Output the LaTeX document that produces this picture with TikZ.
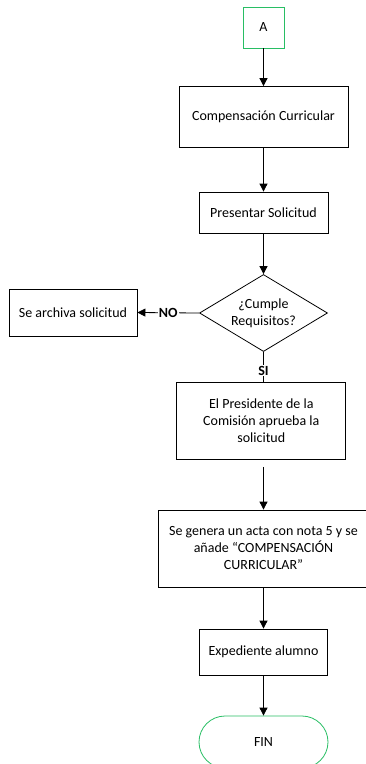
\documentclass[tikz,border=0pt]{standalone}
\usepackage{fontspec}
\setmainfont{Carlito}
\usetikzlibrary{arrows.meta,shapes.geometric,positioning}
\definecolor{termgreen}{RGB}{40,190,100}
\tikzset{
  x=1pt,y=1pt,
  every node/.style={font=\fontsize{14}{17}\selectfont},
  box/.style={draw=black,line width=0.8pt,align=center,inner sep=0pt,fill=white},
  term/.style={draw=termgreen,line width=0.8pt,align=center,inner sep=0pt,fill=white},
  dec/.style={draw=black,line width=0.8pt,align=center,diamond,aspect=1.66,inner sep=0pt,fill=white},
  flow/.style={line width=0.8pt,-{Triangle[width=8pt,length=8pt]}},
  plain/.style={line width=0.8pt},
  lbl/.style={font=\fontsize{14}{17}\selectfont\bfseries,fill=white,inner sep=1pt}
}
\begin{document}
\begin{tikzpicture}
\useasboundingbox (0,0) rectangle (366,-764);
\clip (0,0) rectangle (366,-764);
\node[term,minimum width=41,minimum height=41] (a) at (263.5,-27.5) {A};
\node[box,minimum width=169,minimum height=61] (comp) at (263.5,-117) {Compensación Curricular};
\node[box,minimum width=129,minimum height=41] (pres) at (263.5,-212.5) {Presentar Solicitud};
\node[dec,minimum width=128,minimum height=77] (cumple) at (263.5,-313) {¿Cumple\\Requisitos?};
\node[box,minimum width=128,minimum height=47] (arch) at (73,-312.5) {Se archiva solicitud};
\node[box,minimum width=169,minimum height=77] (presi) at (261.3,-421) {El Presidente de la\\Comisión aprueba la\\solicitud};
\node[box,minimum width=211,minimum height=77] (gen) at (263.5,-548.5) {Se genera un acta con nota 5 y se\\añade “COMPENSACIÓN\\CURRICULAR”};
\node[box,minimum width=128,minimum height=46] (exp) at (263.5,-652) {Expediente alumno};
\node[term,rounded corners=26,minimum width=129,minimum height=52] (fin) at (263.5,-742) {FIN};

\draw[flow] (a) -- (comp);
\draw[flow] (comp) -- (pres);
\draw[flow] (pres) -- (cumple);
\draw[flow] (cumple.west) -- node[lbl,pos=0.5] (no) {NO} (arch.east);
\draw[plain] (cumple.south) -- node[lbl,pos=0.62] (si) {SI} (cumple.south |- presi.north);
\draw[flow,shorten <=7pt] (presi.south -| gen.north) -- (gen.north);
\draw[flow] (gen) -- (exp);
\draw[flow] (exp) -- (fin);
\end{tikzpicture}
\end{document}
